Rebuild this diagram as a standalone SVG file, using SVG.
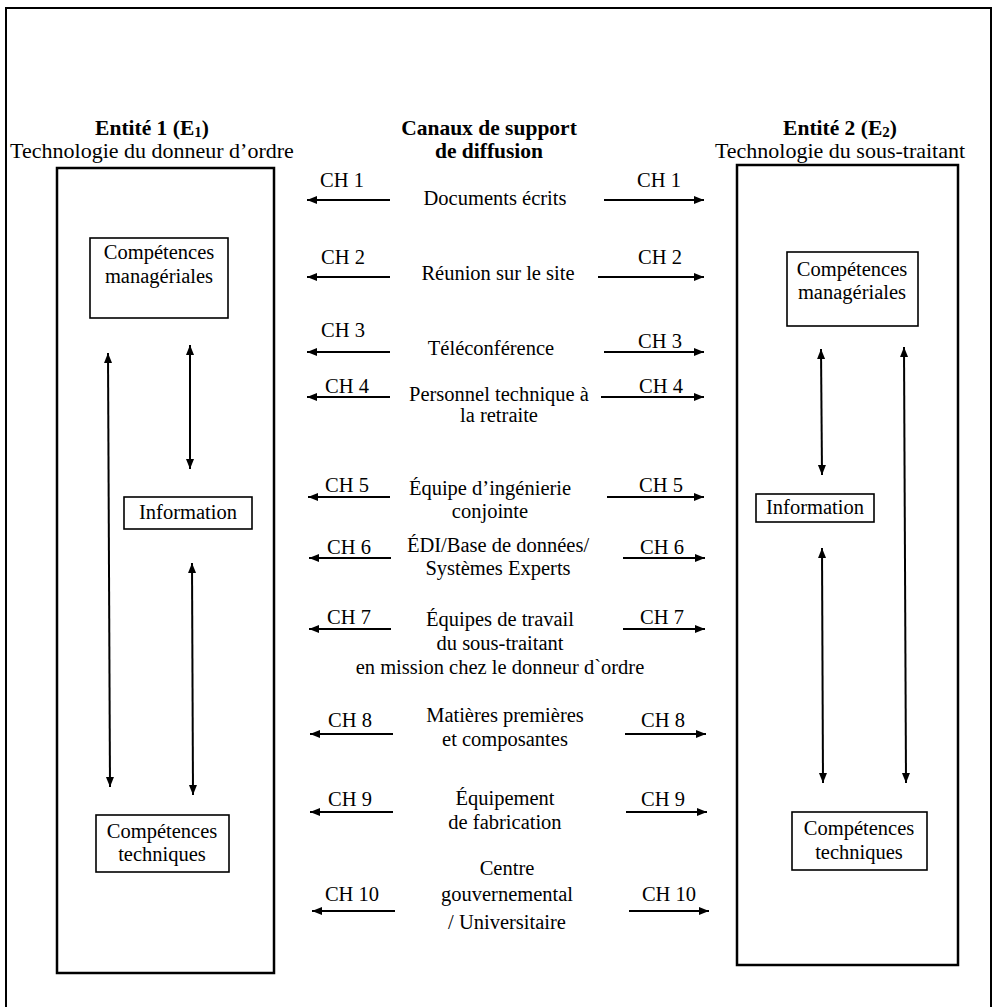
<svg xmlns="http://www.w3.org/2000/svg" width="998" height="1007" viewBox="0 0 998 1007">
<style>
text{font-family:"Liberation Serif","Times New Roman",serif;fill:#000}
.b{font-size:20.5px}
.h{font-size:22px}
.hb{font-size:21.5px;font-weight:bold}
.m{text-anchor:middle}
.frame{fill:none;stroke:#000;stroke-width:2}
.ent{fill:none;stroke:#000;stroke-width:2.5}
.box{fill:#fff;stroke:#000;stroke-width:1.6}
.arr{stroke:#000;stroke-width:2;fill:none;marker-end:url(#ah)}
.dbl{stroke:#000;stroke-width:2;fill:none;marker-start:url(#ah);marker-end:url(#ah)}
</style>
<defs>
<marker id="ah" markerUnits="userSpaceOnUse" markerWidth="12" markerHeight="10" refX="10" refY="4" orient="auto-start-reverse">
<path d="M0,0 L10,4 L0,8 z" fill="#000"/>
</marker>
</defs>
<rect width="998" height="1007" fill="#fff"/>
<path class="frame" d="M6,1007 L6,8 L991,8 L991,1007"/>

<g id="header-e1">
<text class="hb m" x="152" y="135">Entité 1 (E<tspan font-size="15" dy="2">1</tspan><tspan dy="-2">)</tspan></text>
<text class="h m" x="152" y="158">Technologie du donneur d’ordre</text>
</g>
<g id="header-canaux">
<text class="hb m" x="489" y="135">Canaux de support</text>
<text class="hb m" x="489" y="158">de diffusion</text>
</g>
<g id="header-e2">
<text class="hb m" x="840" y="135">Entité 2 (E<tspan font-size="15" dy="2">2</tspan><tspan dy="-2">)</tspan></text>
<text class="h m" x="840" y="158">Technologie du sous-traitant</text>
</g>

<g id="entity1">
<rect class="ent" x="57" y="168" width="217" height="805"/>
</g>
<g id="entity2">
<rect class="ent" x="737" y="165" width="221" height="800"/>
</g>

<g id="e1-competences-manageriales">
<rect class="box" x="90" y="238" width="138" height="80"/>
<text class="b m" x="159" y="259">Compétences</text>
<text class="b m" x="159" y="283">managériales</text>
</g>
<g id="e1-information">
<rect class="box" x="124" y="497" width="128" height="32"/>
<text class="b m" x="188" y="519">Information</text>
</g>
<g id="e1-competences-techniques">
<rect class="box" x="96" y="815" width="133" height="57"/>
<text class="b m" x="162" y="838">Compétences</text>
<text class="b m" x="162" y="861">techniques</text>
</g>

<g id="e2-competences-manageriales">
<rect class="box" x="787" y="252" width="131" height="74"/>
<text class="b m" x="852" y="276">Compétences</text>
<text class="b m" x="852" y="299">managériales</text>
</g>
<g id="e2-information">
<rect class="box" x="756" y="494" width="118" height="28"/>
<text class="b m" x="815" y="514">Information</text>
</g>
<g id="e2-competences-techniques">
<rect class="box" x="792" y="812" width="135" height="58"/>
<text class="b m" x="859" y="835">Compétences</text>
<text class="b m" x="859" y="859">techniques</text>
</g>

<g id="channels">
<text class="b m" x="495" y="205">Documents écrits</text>
<text class="b m" x="498" y="280">Réunion sur le site</text>
<text class="b m" x="491" y="355">Téléconférence</text>
<text class="b m" x="499" y="401">Personnel technique à</text>
<text class="b m" x="499" y="422">la retraite</text>
<text class="b m" x="490" y="495">Équipe d’ingénierie</text>
<text class="b m" x="490" y="518">conjointe</text>
<text class="b m" x="498" y="552">ÉDI/Base de données/</text>
<text class="b m" x="498" y="575">Systèmes Experts</text>
<text class="b m" x="500" y="626">Équipes de travail</text>
<text class="b m" x="500" y="650">du sous-traitant</text>
<text class="b m" x="500" y="674">en mission chez le donneur d`ordre</text>
<text class="b m" x="505" y="722">Matières premières</text>
<text class="b m" x="505" y="746">et composantes</text>
<text class="b m" x="505" y="805">Équipement</text>
<text class="b m" x="505" y="829">de fabrication</text>
<text class="b m" x="507" y="875">Centre</text>
<text class="b m" x="507" y="901">gouvernemental</text>
<text class="b m" x="507" y="929">/ Universitaire</text>
</g>

<g id="channel-labels">
<text class="b m" x="342" y="187">CH 1</text>
<text class="b m" x="659" y="187">CH 1</text>
<text class="b m" x="343" y="264">CH 2</text>
<text class="b m" x="660" y="264">CH 2</text>
<text class="b m" x="343" y="337">CH 3</text>
<text class="b m" x="660" y="348">CH 3</text>
<text class="b m" x="347" y="393">CH 4</text>
<text class="b m" x="661" y="393">CH 4</text>
<text class="b m" x="347" y="492">CH 5</text>
<text class="b m" x="661" y="492">CH 5</text>
<text class="b m" x="349" y="554">CH 6</text>
<text class="b m" x="662" y="554">CH 6</text>
<text class="b m" x="349" y="624">CH 7</text>
<text class="b m" x="662" y="624">CH 7</text>
<text class="b m" x="350" y="727">CH 8</text>
<text class="b m" x="663" y="727">CH 8</text>
<text class="b m" x="350" y="806">CH 9</text>
<text class="b m" x="663" y="806">CH 9</text>
<text class="b m" x="352" y="901">CH 10</text>
<text class="b m" x="669" y="901">CH 10</text>
</g>

<g id="connectors">
<line class="arr" x1="390" y1="200" x2="307" y2="200"/>
<line class="arr" x1="604" y1="200" x2="704" y2="200"/>
<line class="arr" x1="390" y1="277" x2="307" y2="277"/>
<line class="arr" x1="598" y1="277" x2="704" y2="277"/>
<line class="arr" x1="390" y1="352" x2="307" y2="352"/>
<line class="arr" x1="604" y1="352" x2="704" y2="352"/>
<line class="arr" x1="390" y1="397" x2="307" y2="397"/>
<line class="arr" x1="601" y1="397" x2="704" y2="397"/>
<line class="arr" x1="390" y1="497" x2="308" y2="497"/>
<line class="arr" x1="607" y1="497" x2="704" y2="497"/>
<line class="arr" x1="391" y1="558" x2="309" y2="558"/>
<line class="arr" x1="623" y1="558" x2="705" y2="558"/>
<line class="arr" x1="391" y1="629" x2="309" y2="629"/>
<line class="arr" x1="623" y1="629" x2="705" y2="629"/>
<line class="arr" x1="393" y1="734" x2="310" y2="734"/>
<line class="arr" x1="625" y1="734" x2="706" y2="734"/>
<line class="arr" x1="393" y1="812" x2="310" y2="812"/>
<line class="arr" x1="626" y1="812" x2="707" y2="812"/>
<line class="arr" x1="395" y1="911" x2="312" y2="911"/>
<line class="arr" x1="629" y1="911" x2="709" y2="911"/>

<line class="dbl" x1="108" y1="353" x2="110" y2="787"/>
<line class="dbl" x1="190" y1="345" x2="190" y2="469"/>
<line class="dbl" x1="192" y1="563" x2="193" y2="795"/>
<line class="dbl" x1="821" y1="349" x2="822" y2="475"/>
<line class="dbl" x1="822" y1="548" x2="823" y2="783"/>
<line class="dbl" x1="904" y1="347" x2="906" y2="783"/>
</g>
</svg>
